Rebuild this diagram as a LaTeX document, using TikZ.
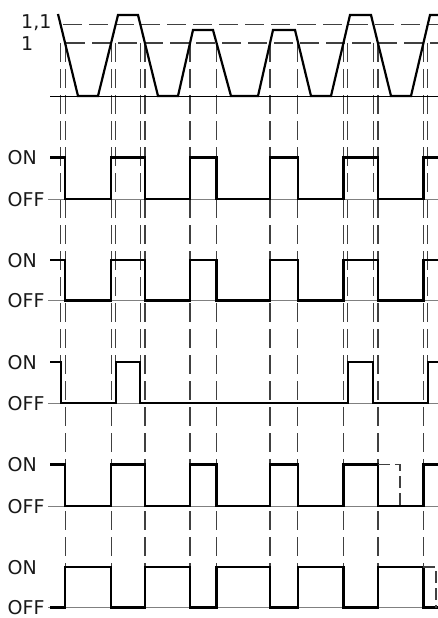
\documentclass[tikz,border=0pt]{standalone}
\usepackage{fontspec}
\setmainfont{DejaVu Sans}
\begin{document}
\begin{tikzpicture}[x=1pt,y=-1pt,
  wave/.style={line width=2.2pt, line join=miter},
  sig/.style={line width=2.2pt, line join=miter},
  refline/.style={line width=1pt, black!50},
  guide/.style={line width=1.2pt, black!75, dash pattern=on 19pt off 7pt},
  lbl/.style={font=\fontsize{19}{22}\selectfont, text=black!90, inner sep=0pt, anchor=base west}]
\useasboundingbox[fill=white] (0,0) rectangle (438,618);

% guide lines from level-1 crossings
\foreach \x in {65.1,111.1,144.9,190.0,216.5,270.0,297.7,343.4,377.9,423.4}
  \draw[guide] (\x,43) -- (\x,607.5);
% guide lines from level-1.1 crossings
\foreach \x in {60.6,115.7,140.3,347.8,373.3,427.8}
  \draw[guide] (\x,43) -- (\x,403);

% level lines
\draw[guide] (63,24.5) -- (438,24.5);
\draw[guide] (66,43) -- (438,43);
\draw[line width=1pt] (50,96) -- (438,96);

% reference OFF lines
\foreach \y in {199,300.5,403,506,607.5}
  \draw[refline] (48,\y) -- (438,\y);

% labels
\node[lbl] (l11) at (21,28.5) {1,1};
\node[lbl] (l1) at (21,50.5) {1};
\foreach \on/\off [count=\i] in {157.5/199,260/300.5,362/403,464.5/506,567/607.5}{
  \node[lbl] (on\i) at (7.5,\on+7) {ON};
  \node[lbl] (off\i) at (7.5,\off+7) {OFF};
}

% input waveform
\draw[wave] (58,14) -- (78,96) -- (98,96) -- (118,15) -- (138,15) -- (158,96) -- (178,96)
  -- (193,30) -- (213,30) -- (231,96) -- (258,96) -- (273,30) -- (295,30) -- (311,96)
  -- (331,96) -- (350,15) -- (371,15) -- (391,96) -- (411,96) -- (430,15) -- (438,15);

% signal 1
\draw[sig] (50,157.5) -| (65.1,199) -| (111.1,157.5) -| (144.9,199) -| (190,157.5) -| (216.5,199)
  -| (270,157.5) -| (297.7,199) -| (343.4,157.5) -| (377.9,199) -| (423.4,157.5) -- (438,157.5);
% signal 2
\draw[sig] (50,260) -| (65.1,300.5) -| (111.1,260) -| (144.9,300.5) -| (190,260) -| (216.5,300.5)
  -| (270,260) -| (297.7,300.5) -| (343.4,260) -| (377.9,300.5) -| (423.4,260) -- (438,260);
% signal 3
\draw[sig] (50,362) -| (60.6,403) -| (115.7,362) -| (140.3,403) -| (347.8,362) -| (373.3,403)
  -| (427.8,362) -- (438,362);
% signal 4
\draw[sig] (50,464.5) -| (65.1,506) -| (111.1,464.5) -| (144.9,506) -| (190,464.5) -| (216.5,506)
  -| (270,464.5) -| (297.7,506) -| (343.4,464.5) -| (377.9,506) -| (423.4,464.5) -- (438,464.5);
\coordinate (h4a) at (377.9,464.5);
\coordinate (h4b) at (400,506);
\draw[guide, dash pattern=on 12pt off 5pt] (h4a) -| (h4b);
% signal 5
\draw[sig] (50,607.5) -| (65.1,567) -| (111.1,607.5) -| (144.9,567) -| (190,607.5) -| (216.5,567)
  -| (270,607.5) -| (297.7,567) -| (343.4,607.5) -| (377.9,567) -| (423.4,607.5) -- (438,607.5);
\coordinate (h5a) at (423.4,567);
\coordinate (h5b) at (436,607.5);
\draw[guide, dash pattern=on 12pt off 5pt] (h5a) -| (h5b);
\end{tikzpicture}
\end{document}
